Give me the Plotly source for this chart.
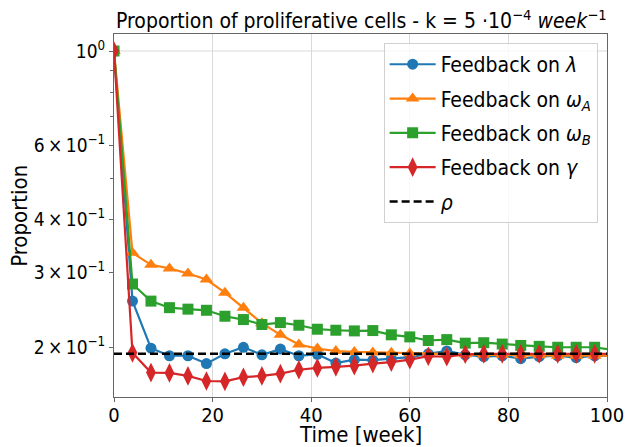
import plotly.graph_objects as go

# ---- data ----
time_weeks = [0, 3.75, 7.5, 11.25, 15, 18.75, 22.5, 26.25, 30, 33.75, 37.5, 41.25, 45,
              48.75, 52.5, 56.25, 60, 63.75, 67.5, 71.25, 75, 78.75, 82.5, 86.25, 90,
              93.75, 97.5]
time_end = 100

fb_lambda = [1.0, 0.257, 0.199, 0.191, 0.191, 0.183, 0.193, 0.200, 0.192, 0.198, 0.191,
             0.1925, 0.1836, 0.187, 0.1865, 0.188, 0.1895, 0.193, 0.196, 0.192, 0.190,
             0.191, 0.188, 0.190, 0.191, 0.189, 0.191]
fb_lambda_end = 0.191

fb_omega_a = [1.0, 0.334, 0.313, 0.307, 0.2985, 0.289, 0.269, 0.248, 0.228, 0.214, 0.203,
              0.1986, 0.196, 0.195, 0.1945, 0.194, 0.1935, 0.193, 0.193, 0.1925, 0.192,
              0.192, 0.1915, 0.1915, 0.191, 0.191, 0.191]
fb_omega_a_end = 0.191

fb_omega_b = [1.0, 0.282, 0.257, 0.248, 0.246, 0.2445, 0.2367, 0.2325, 0.2263, 0.2287,
              0.2254, 0.2206, 0.2194, 0.2186, 0.219, 0.214, 0.2116, 0.2075, 0.2085, 0.2045,
              0.205, 0.2035, 0.202, 0.201, 0.200, 0.200, 0.200]
fb_omega_b_end = 0.198

fb_gamma = [1.0, 0.194, 0.1743, 0.174, 0.1712, 0.1665, 0.1662, 0.170, 0.1712, 0.1733,
            0.177, 0.1788, 0.1798, 0.181, 0.183, 0.1845, 0.187, 0.1905, 0.190, 0.1925,
            0.193, 0.193, 0.193, 0.193, 0.193, 0.193, 0.193]
fb_gamma_end = 0.193

rho = 0.193

y_tick_vals = [0.2, 0.3, 0.4, 0.6, 1.0]
y_tick_text = ["2\u2009×\u200910<sup>−1</sup>", "3\u2009×\u200910<sup>−1</sup>",
               "4\u2009×\u200910<sup>−1</sup>", "6\u2009×\u200910<sup>−1</sup>",
               "10<sup>0</sup>"]
y_minor_vals = [0.5, 0.7, 0.8, 0.9]
x_tick_vals = [0, 20, 40, 60, 80, 100]

FONT = "DejaVu Sans Condensed, DejaVu Sans, sans-serif"

series = [
    ("Feedback on <i>λ</i>", fb_lambda, fb_lambda_end, "#1f77b4", "circle", 11),
    ("Feedback on <i>ω<sub>A</sub></i>", fb_omega_a, fb_omega_a_end, "#ff7f0e", "triangle-up", 12),
    ("Feedback on <i>ω<sub>B</sub></i>", fb_omega_b, fb_omega_b_end, "#2ca02c", "square", 11),
    ("Feedback on <i>γ</i>", fb_gamma, fb_gamma_end, "#d62728", "diamond-tall", 14),
]

fig = go.Figure()
for i, (name, vals, end, color, sym, ms) in enumerate(series):
    fig.add_trace(go.Scatter(
        x=[time_weeks[-1], time_end], y=[vals[-1], end], mode="lines",
        line=dict(color=color, width=2.2), showlegend=False, hoverinfo="skip",
        legendgroup=f"g{i}"))
    fig.add_trace(go.Scatter(
        x=time_weeks, y=vals, mode="lines+markers", name=name,
        line=dict(color=color, width=2.2),
        marker=dict(symbol=sym, size=ms, color=color, line=dict(width=0)),
        legendgroup=f"g{i}"))

fig.add_trace(go.Scatter(
    x=[time_weeks[0], time_end], y=[rho, rho], mode="lines", name="<i>ρ</i>",
    line=dict(color="black", width=2.5, dash="8px,4px"), legendgroup="g9"))

fig.update_layout(
    width=635, height=447,
    margin=dict(l=114, r=27.5, t=34, b=50.3),
    paper_bgcolor="white", plot_bgcolor="white",
    font=dict(family=FONT, size=20, color="black"),
    title=dict(
        text="Proportion of proliferative cells - k = 5 ·10<sup>−4</sup> <i>week</i><sup>−1</sup>",
        x=0.569, xanchor="center", xref="container",
        y=1 - 21 / 447, yanchor="middle", yref="container",
        font=dict(family=FONT, size=21, color="black")),
    showlegend=True,
    legend=dict(
        x=0.981, xanchor="right", y=0.975, yanchor="top",
        bgcolor="rgba(255,255,255,0.8)", bordercolor="#d0d0d0", borderwidth=1,
        font=dict(family=FONT, size=21, color="black"),
        traceorder="grouped", tracegroupgap=4, itemwidth=46),
    shapes=[dict(type="line", xref="x domain", yref="y", x0=0, x1=1, y0=1.0, y1=1.0,
                 line=dict(color="#d9d9d9", width=1), layer="below")],
    annotations=[
        dict(text="Time [week]", xref="paper", yref="paper", x=0.5, y=-0.104,
             xanchor="center", yanchor="middle", showarrow=False,
             font=dict(family=FONT, size=22, color="black")),
        dict(text="Proportion", xref="paper", yref="paper", x=-0.192, y=0.5,
             xanchor="center", yanchor="middle", textangle=-90, showarrow=False,
             font=dict(family=FONT, size=22, color="black")),
    ],
)

fig.update_xaxes(
    range=[0, 100], tickvals=x_tick_vals, ticks="outside", ticklen=4, tickcolor="#666",
    ticklabelstandoff=-4,
    showgrid=True, gridcolor="#d9d9d9", gridwidth=1,
    showline=True, linecolor="#666", linewidth=1, mirror=True, zeroline=False,
    tickfont=dict(family=FONT, size=20, color="black"),
)
fig.update_yaxes(
    type="log", range=[-0.8163, 0.0401],
    tickmode="array", tickvals=y_tick_vals, ticktext=y_tick_text,
    ticks="outside", ticklen=4, tickcolor="#666", showgrid=False,
    minor=dict(tickmode="array", tickvals=y_minor_vals, ticks="outside", ticklen=3,
               tickcolor="#666", showgrid=False),
    showline=True, linecolor="#666", linewidth=1, mirror=True, zeroline=False,
    tickfont=dict(family=FONT, size=19, color="black"),
)

fig.write_html("out.html")
